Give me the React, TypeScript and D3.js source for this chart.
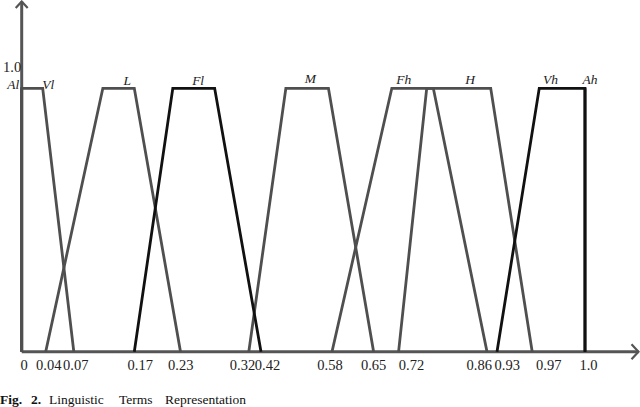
import React from "react";
import * as d3 from "d3";

// ---- data ----
const tickValues = [0, 0.04, 0.07, 0.17, 0.23, 0.32, 0.42, 0.58, 0.65, 0.72, 0.86, 0.93, 0.97, 1.0];
const tickLabels = ["0", "0.04", "0.07", "0.17", "0.23", "0.32", "0.42", "0.58", "0.65", "0.72", "0.86", "0.93", "0.97", "1.0"];
const termNames = ["Al", "Vl", "L", "Fl", "M", "Fh", "H", "Vh", "Ah"];
// trapezoid corners a (foot), b (shoulder), c (shoulder), d (foot)
const termA = [0, 0, 0.04, 0.17, 0.32, 0.58, 0.72, 0.93, 1.0];
const termB = [0, 0, 0.118, 0.22, 0.476, 0.701, 0.7645, 0.974, 1.0];
const termC = [0, 0.035, 0.17, 0.275, 0.572, 0.775, 0.886, 1.0, 1.0];
const termD = [0, 0.07, 0.23, 0.42, 0.65, 0.86, 0.97, 1.0, 1.0];
const termDark = [false, false, false, true, false, false, false, true, true];
const yTickLabel = "1.0";
const captionBold = ["Fig.", "2."];
const captionWords = ["Linguistic", "Terms", "Representation"];

// ---- layout (schematic, non-linear axis as drawn) ----
const W = 640, H = 407;
const tickPx = [21.7, 45.7, 73.8, 134.3, 180.5, 248.8, 261, 332, 373.6, 398.6, 487, 497, 532.2, 585];
const tickDx = [2.5, 3, 2, 5.9, 0.3, -6.3, 6.5, -2, 0, 12.9, -7.8, 10.2, 16.6, 3.5];
const labelDx = [-8.4, 16, 8.8, 4.4, 3.3, -8.8, 11.3, -11.5, 5];
const labelBase = [88.5, 88.5, 85, 84.5, 83, 83.5, 83.5, 83.5, 83.5];
const captionBoldX = [0, 31];
const captionX = [49, 119, 165];

const GREY = "#4f4f4f";
const DARK = "#111";
const AXIS = "#555";

export default function App() {
  const x = d3.scaleLinear().domain(tickValues).range(tickPx);
  const y = d3.scaleLinear().domain([0, 1]).range([351.7, 88.3]);
  const line = d3
    .line<[number, number]>()
    .x((d) => x(d[0]))
    .y((d) => y(d[1]));

  const x0 = x(0);
  const y0 = y(0);

  const order = termNames.map((_, i) => i).sort((a, b) => Number(termDark[a]) - Number(termDark[b]));

  return (
    <svg
      width={W}
      height={H}
      style={{ position: "absolute", left: 0, top: 0, background: "#fff" }}
      fontFamily="'Liberation Serif', 'Times New Roman', serif"
    >
      <rect width={W} height={H} fill="#fff" />
      {/* axes */}
      <line x1={x0} y1={y0} x2={x0} y2={1.5} stroke={AXIS} strokeWidth={3} />
      <path d={`M${x0 - 6},${8} L${x0},${1.5} L${x0 + 6},${8}`} fill="none" stroke={AXIS} strokeWidth={2.2} />
      <line x1={x0} y1={y0} x2={638.5} y2={y0} stroke={AXIS} strokeWidth={3} />
      <path d={`M${631.5},${y0 - 7.5} L${638.5},${y0} L${631.5},${y0 + 7.5}`} fill="none" stroke={AXIS} strokeWidth={2.2} />

      {/* membership functions */}
      {order.map((i) => {
        const pts: [number, number][] = [
          [termA[i], 0],
          [termB[i], 1],
          [termC[i], 1],
          [termD[i], 0],
        ];
        return (
          <path
            key={termNames[i]}
            d={line(pts) || ""}
            fill="none"
            stroke={termDark[i] ? DARK : GREY}
            strokeWidth={2.8}
            strokeLinejoin="miter"
          />
        );
      })}

      {/* term labels */}
      {termNames.map((n, i) => (
        <text
          key={"l" + n}
          x={(x(termB[i]) + x(termC[i])) / 2 + labelDx[i]}
          y={labelBase[i]}
          textAnchor="middle"
          fontStyle="italic"
          fontSize={13.5}
          fill="#222"
        >
          {n}
        </text>
      ))}

      {/* y label */}
      <text x={3} y={71.5} fontSize={14.5} fill="#222">
        {yTickLabel}
      </text>

      {/* x tick labels */}
      {tickValues.map((v, i) => (
        <text key={"t" + i} x={x(v) + tickDx[i]} y={370} textAnchor="middle" fontSize={14.5} fill="#222">
          {tickLabels[i]}
        </text>
      ))}

      {/* caption */}
      {captionBold.map((w, i) => (
        <text key={"cb" + i} x={captionBoldX[i]} y={403.5} fontSize={13.5} fontWeight="bold" fill="#111">
          {w}
        </text>
      ))}
      {captionWords.map((w, i) => (
        <text key={"cw" + i} x={captionX[i]} y={403.5} fontSize={13.5} fill="#111">
          {w}
        </text>
      ))}
    </svg>
  );
}
